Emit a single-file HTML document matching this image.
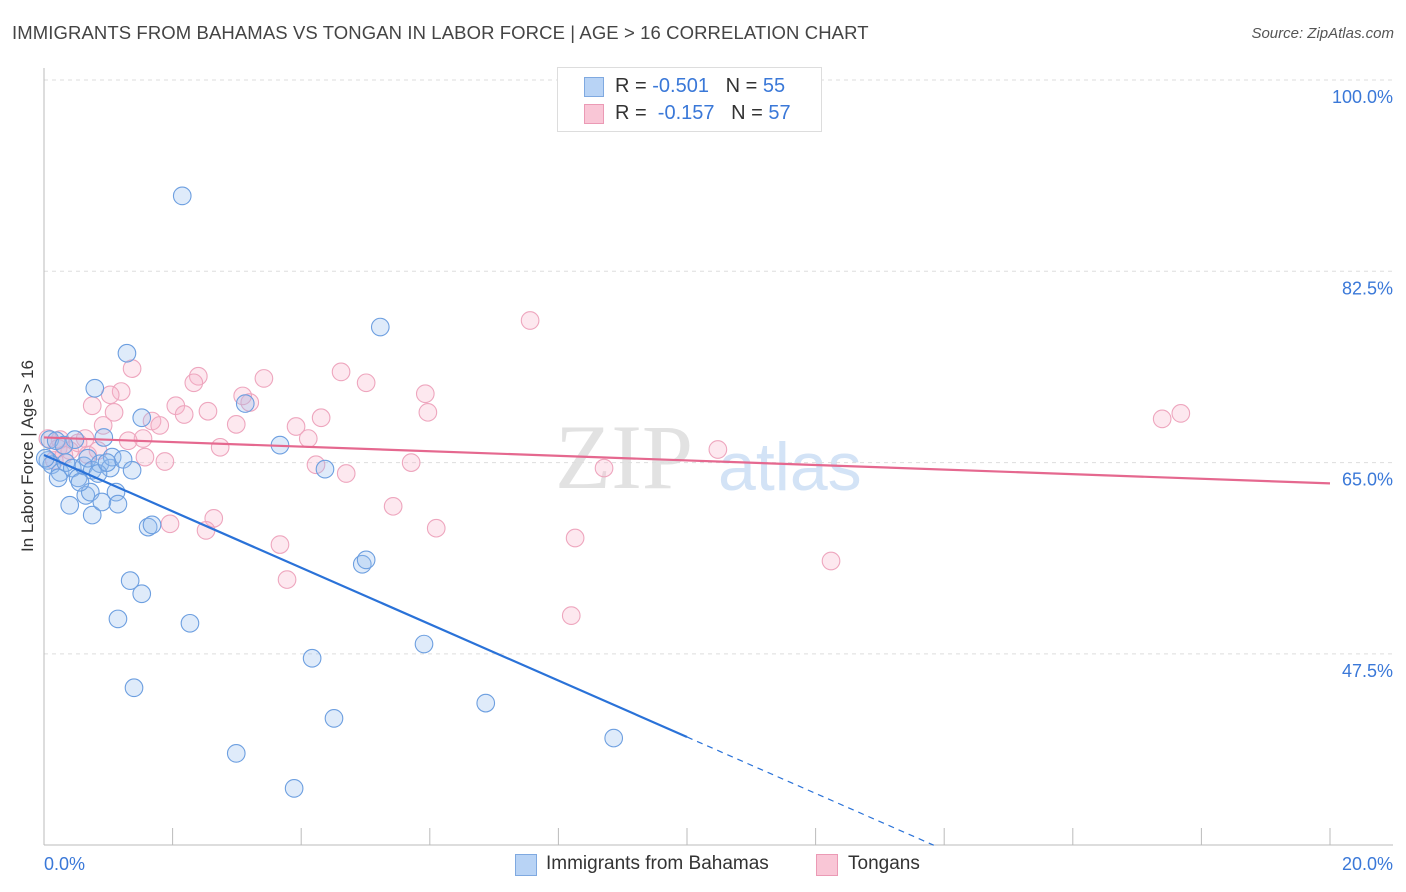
<!DOCTYPE html>
<html><head><meta charset="utf-8"><style>
body{margin:0;background:#fff;font-family:"Liberation Sans",sans-serif}
#wrap{position:relative;width:1406px;height:892px;overflow:hidden}
.t{position:absolute;white-space:nowrap}
</style></head><body>
<div id="wrap">
<div class="t" style="left:12px;top:22px;font-size:18.5px;color:#444;letter-spacing:0.1px">IMMIGRANTS FROM BAHAMAS VS TONGAN IN LABOR FORCE | AGE &gt; 16 CORRELATION CHART</div>
<div class="t" style="right:12px;top:25px;font-size:15px;color:#555;font-style:italic">Source: ZipAtlas.com</div>
<div class="t" style="left:28px;top:456px;font-size:17px;color:#333;transform:translate(-50%,-50%) rotate(-90deg)">In Labor Force | Age &gt; 16</div>
<svg id="plot" width="1406" height="892" style="position:absolute;left:0;top:0"></svg>
<div style="position:absolute;left:557px;top:67px;width:263px;height:63px;border:1px solid #ddd;background:#fff;font-size:20px">
 <div style="position:absolute;left:26px;top:9px;width:18px;height:18px;background:#b8d3f5;border:1px solid #7fa9e0"></div>
 <div class="t" style="left:57px;top:7px;color:#333">R = <span style="color:#3a78d8">-0.501</span>&nbsp;&nbsp;&nbsp;N = <span style="color:#3a78d8">55</span></div>
 <div style="position:absolute;left:26px;top:36px;width:18px;height:18px;background:#f9c6d6;border:1px solid #eb9ab5"></div>
 <div class="t" style="left:57px;top:34px;color:#333">R = &nbsp;<span style="color:#3a78d8">-0.157</span>&nbsp;&nbsp;&nbsp;N = <span style="color:#3a78d8">57</span></div>
</div>
<div>
 <div style="position:absolute;left:515px;top:854px;width:20px;height:20px;background:#b8d3f5;border:1px solid #7fa9e0"></div>
 <div class="t" style="left:546px;top:853px;font-size:19px;color:#333">Immigrants from Bahamas</div>
 <div style="position:absolute;left:816px;top:854px;width:20px;height:20px;background:#f9c6d6;border:1px solid #eb9ab5"></div>
 <div class="t" style="left:848px;top:853px;font-size:19px;color:#333">Tongans</div>
</div>
</div>
<script>
const blueX=[2.15,5.23,1.29,0.79,3.13,1.52,3.67,0.93,4.37,0.09,0.19,0.06,0.12,0.25,0.34,0.44,0.48,0.53,0.62,0.68,0.75,0.87,1.03,1.06,1.23,1.37,0.22,0.40,0.65,0.72,0.75,0.90,1.12,1.15,1.62,1.68,1.34,1.52,1.15,2.27,4.95,5.01,4.17,5.91,1.40,4.51,6.87,8.86,2.99,3.89,0.02,0.31,0.56,0.84,0.98];
const blueY=[89.4,77.4,75.0,71.8,70.4,69.1,66.6,67.3,64.4,67.1,67.0,65.2,64.8,64.1,65.0,64.5,67.1,63.6,64.7,65.4,64.3,64.9,64.5,65.5,65.3,64.3,63.6,61.1,62.0,62.3,60.2,61.4,62.3,61.2,59.1,59.3,54.2,53.0,50.7,50.3,55.7,56.1,47.1,48.4,44.4,41.6,43.0,39.8,38.4,35.2,65.4,66.6,63.2,64.0,65.0];
const pinkX=[7.56,1.37,2.40,2.33,3.42,4.62,5.01,5.93,1.20,1.03,0.75,1.09,2.05,2.55,2.18,3.20,3.09,5.97,4.31,1.68,1.80,2.99,3.92,0.92,1.54,1.31,0.64,0.25,0.06,0.22,0.40,0.68,0.84,1.57,1.88,2.74,4.11,4.23,4.70,5.71,8.71,10.48,5.43,6.10,2.64,2.52,1.96,3.67,8.26,3.78,12.24,8.20,17.39,17.68,0.16,0.31,0.53];
const pinkY=[78.0,73.6,72.9,72.3,72.7,73.3,72.3,71.3,71.5,71.2,70.2,69.6,70.2,69.7,69.4,70.5,71.1,69.6,69.1,68.8,68.4,68.5,68.3,68.4,67.2,67.0,67.2,67.1,67.2,66.3,66.1,65.7,66.1,65.5,65.1,66.4,67.2,64.8,64.0,65.0,64.5,66.2,61.0,59.0,59.9,58.8,59.4,57.5,58.1,54.3,56.0,51.0,69.0,69.5,65.2,65.7,66.8];
const yTicks=[100,82.5,65,47.5];
const yTickLabels=["100.0%","82.5%","65.0%","47.5%"];
const xTickLabels=["0.0%","20.0%"];
const blueTrend=[65.7,-2.58];
const pinkTrend=[67.3,-0.21];
const NS="http://www.w3.org/2000/svg";
const svg=document.getElementById('plot');
const X=v=>44+v/20*1286;
const Y=v=>80+(100-v)/17.5*191.3;
function mk(t,a){const e=document.createElementNS(NS,t);for(const k in a)e.setAttribute(k,a[k]);svg.appendChild(e);return e;}
let w=mk('text',{x:555,y:488,'font-size':92,fill:'#e2e2e2','font-family':'Liberation Serif, serif'});w.textContent='ZIP';


let w2=mk('text',{x:718,y:490,'font-size':68,fill:'#d3e3f6','font-family':'Liberation Sans, sans-serif'});w2.textContent='atlas';


yTicks.forEach((v,i)=>{
 const g=mk('line',{x1:44,x2:1393,y1:Y(v),y2:Y(v),stroke:'#ddd','stroke-dasharray':'4,4'});
 
 
 const t=mk('text',{x:1393,y:Y(v)+23,'text-anchor':'end','font-size':18,fill:'#3a78d8','font-family':'Liberation Sans, sans-serif'});
 t.textContent=yTickLabels[i];
 
 
});
let ax=mk('line',{x1:44,x2:44,y1:68,y2:845,stroke:'#bbb'});


let bx=mk('line',{x1:44,x2:1393,y1:845,y2:845,stroke:'#bbb'});


for(let i=0;i<=10;i++){const tk=mk('line',{x1:X(i*2),x2:X(i*2),y1:828,y2:845,stroke:'#bbb'});
 
 }
[[0,'start',44],[20,'end',1393]].forEach((d,i)=>{const t=mk('text',{x:d[2],y:870,'text-anchor':d[1],'font-size':18,fill:'#3a78d8','font-family':'Liberation Sans, sans-serif'});t.textContent=xTickLabels[i];
 
 });
function pts(xs,ys,fill,stroke,name){xs.forEach((x,i)=>{const c=mk('circle',{cx:X(x),cy:Y(ys[i]),r:8.8,fill:fill,stroke:stroke,'stroke-width':1.1});
 
 });}
pts(pinkX,pinkY,'rgba(247,180,202,0.3)','#eea6be','tongan-point');
pts(blueX,blueY,'rgba(150,190,240,0.3)','#6d9fe0','bahamas-point');
const xEnd=(30-blueTrend[0])/blueTrend[1];
let l1=mk('line',{x1:X(0),y1:Y(blueTrend[0]),x2:X(10),y2:Y(blueTrend[0]+blueTrend[1]*10),stroke:'#2a72d8','stroke-width':2.2});


let l2=mk('line',{x1:X(10),y1:Y(blueTrend[0]+blueTrend[1]*10),x2:X(xEnd),y2:Y(30),stroke:'#2a72d8','stroke-width':1.2,'stroke-dasharray':'6,5'});


let l3=mk('line',{x1:X(0),y1:Y(pinkTrend[0]),x2:X(20),y2:Y(pinkTrend[0]+pinkTrend[1]*20),stroke:'#e5688f','stroke-width':2.2});


</script>
</body></html>
